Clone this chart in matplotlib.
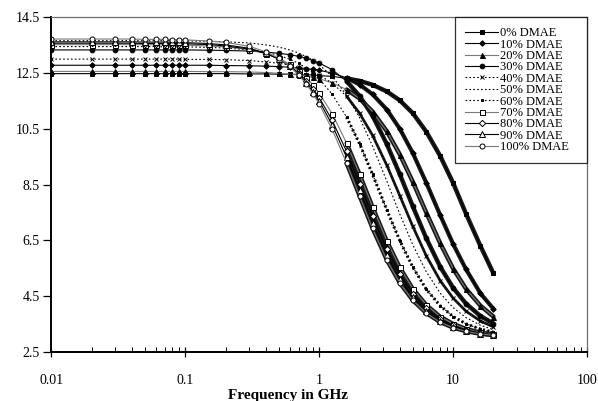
import matplotlib
matplotlib.use("Agg")
import matplotlib.pyplot as plt
from matplotlib.ticker import FixedLocator, LogLocator, NullFormatter, FixedFormatter

plt.rcParams['font.family'] = ['Liberation Serif', 'DejaVu Serif']

freq = [0.01, 0.02, 0.03, 0.04, 0.05, 0.06, 0.07, 0.08, 0.09, 0.1, 0.15, 0.2,
        0.3, 0.4, 0.5, 0.6, 0.7, 0.8, 0.9, 1.0, 1.25, 1.6, 2.0, 2.5, 3.2, 4.0,
        5.0, 6.3, 8.0, 10, 12.5, 16, 20]

labels = ["0% DMAE", "10% DMAE", "20% DMAE", "30% DMAE", "40% DMAE", "50% DMAE",
          "60% DMAE", "70% DMAE", "80% DMAE", "90% DMAE", "100% DMAE"]

d0 = [12.48]*12 + [12.47, 12.47, 12.46, 12.46, 12.45, 12.44, 12.43, 12.41,
                   12.38, 12.31, 12.22, 12.08, 11.84, 11.52, 11.06, 10.40, 9.53,
                   8.56, 7.45, 6.30, 5.32]
d10 = [12.78]*11 + [12.77, 12.76, 12.75, 12.73, 12.71, 12.69, 12.66, 12.63, 12.60,
                    12.50, 12.33, 12.09, 11.74, 11.19, 10.50, 9.63, 8.57, 7.41,
                    6.37, 5.46, 4.60, 4.05]
d20 = [12.56]*10 + [12.55, 12.55, 12.54, 12.52, 12.49, 12.46, 12.43, 12.39, 12.35,
                    12.30, 12.15, 11.91, 11.59, 11.12, 10.41, 9.58, 8.60, 7.50,
                    6.40, 5.49, 4.76, 4.16, 3.77]
d30 = [13.33]*10 + [13.32, 13.31, 13.29, 13.25, 13.21, 13.16, 13.10, 13.03, 12.95,
                    12.86, 12.62, 12.21, 11.68, 10.97, 9.95, 8.87, 7.72, 6.58,
                    5.56, 4.80, 4.23, 3.79, 3.52]
d40 = [13.00]*9 + [12.99, 12.99, 12.98, 12.95, 12.90, 12.85, 12.79, 12.71, 12.63,
                   12.54, 12.43, 12.14, 11.67, 11.06, 10.27, 9.19, 8.10, 7.00,
                   5.95, 5.06, 4.43, 3.96, 3.61, 3.40]
d50 = [13.66]*8 + [13.65, 13.65, 13.64, 13.62, 13.58, 13.51, 13.43, 13.33, 13.22,
                   13.09, 12.95, 12.80, 12.38, 11.71, 10.90, 9.89, 8.62, 7.44,
                   6.34, 5.38, 4.61, 4.09, 3.73, 3.46, 3.30]
d60 = [13.45]*6 + [13.44, 13.44, 13.44, 13.44, 13.42, 13.40, 13.33, 13.25, 13.13,
                   13.00, 12.85, 12.68, 12.49, 12.29, 11.74, 10.92, 9.97, 8.87,
                   7.59, 6.49, 5.54, 4.75, 4.16, 3.77, 3.51, 3.32, 3.21]
d70 = [13.52]*5 + [13.51, 13.51, 13.51, 13.50, 13.50, 13.47, 13.44, 13.34, 13.20,
                   13.03, 12.82, 12.59, 12.34, 12.07, 11.78, 11.04, 9.99, 8.88,
                   7.71, 6.48, 5.53, 4.77, 4.19, 3.77, 3.51, 3.33, 3.20, 3.13]
d80 = [13.57]*4 + [13.56, 13.56, 13.56, 13.55, 13.55, 13.55, 13.52, 13.47, 13.36,
                   13.20, 13.00, 12.77, 12.51, 12.23, 11.93, 11.62, 10.80, 9.69,
                   8.54, 7.37, 6.18, 5.28, 4.58, 4.06, 3.68, 3.45, 3.29, 3.18, 3.12]
d90 = [13.62]*4 + [13.61, 13.61, 13.61, 13.60, 13.60, 13.59, 13.56, 13.51, 13.39,
                   13.21, 13.00, 12.74, 12.46, 12.16, 11.83, 11.50, 10.64, 9.48,
                   8.31, 7.14, 5.98, 5.12, 4.46, 3.97, 3.62, 3.41, 3.27, 3.16, 3.11]
d100 = [13.72]*4 + [13.71, 13.71, 13.71, 13.70, 13.70, 13.69, 13.65, 13.60, 13.46,
                    13.26, 13.03, 12.75, 12.44, 12.11, 11.76, 11.39, 10.48, 9.27,
                    8.09, 6.93, 5.79, 4.97, 4.35, 3.89, 3.57, 3.37, 3.24, 3.15, 3.10]

series = [d0, d10, d20, d30, d40, d50, d60, d70, d80, d90, d100]

# style: (line color, linestyle, marker, marker face, marker size, dense-band width)
styles = [
    ('black', '-', 's', 'black', 3.5, 3.2),
    ('black', '-', 'D', 'black', 2.8, 3.0),
    ('#7a7a7a', '-', '^', 'black', 3.6, 3.2),
    ('black', '-', 'o', 'black', 3.4, 3.2),
    ('black', (0, (1.5, 2)), 'x', 'black', 3.2, 2.0),
    ('black', (0, (1.5, 2)), None, 'black', 0, 0),
    ('black', (0, (1.5, 2)), 's', 'black', 2.0, 0),
    ('#7a7a7a', '-', 's', 'white', 3.6, 3.0),
    ('black', '-', 'D', 'white', 3.2, 3.0),
    ('black', '-', '^', 'white', 3.8, 3.0),
    ('#7a7a7a', '-', 'o', 'white', 3.6, 3.0),
]

fig = plt.figure(figsize=(5.98, 4.01), dpi=100)
ax = fig.add_axes([0.0861, 0.1222, 0.8955, 0.8347])

dense_start = freq.index(1.6)
for vals, lab, (lc, ls, mk, mf, ms, bw) in zip(series, labels, styles):
    ax.plot(freq, vals, color=lc, linestyle=ls, linewidth=0.8,
            marker=mk if mk else 'None', markersize=ms, markerfacecolor=mf,
            markeredgecolor='black', markeredgewidth=0.7, label=lab)
    if bw > 0:
        ax.plot(freq[dense_start:], vals[dense_start:], color='#1a1a1a',
                linewidth=bw, solid_capstyle='round', zorder=1.5)
    elif mk == 's':
        ax.plot(freq[dense_start:], vals[dense_start:], color='black',
                linewidth=2.2, linestyle=(0, (0.6, 0.9)), zorder=1.5)

ax.set_xscale('log')
ax.set_xlim(0.01, 100)
ax.set_ylim(2.5, 14.5)

yt = [2.5, 4.5, 6.5, 8.5, 10.5, 12.5, 14.5]
ax.yaxis.set_major_locator(FixedLocator(yt))
ax.yaxis.set_major_formatter(FixedFormatter([str(v) for v in yt]))
xt = [0.01, 0.1, 1, 10, 100]
ax.xaxis.set_major_locator(FixedLocator(xt))
ax.xaxis.set_major_formatter(FixedFormatter(['0.01', '0.1', '1', '10', '100']))
ax.xaxis.set_minor_locator(LogLocator(base=10, subs=range(2, 10)))
ax.xaxis.set_minor_formatter(NullFormatter())

ax.tick_params(axis='y', which='major', direction='out', length=5.5, width=0.9,
               labelsize=10, pad=3)
ax.tick_params(axis='x', which='major', direction='inout', length=7, width=0.9,
               labelsize=10, pad=12)
ax.tick_params(axis='x', which='minor', direction='in', length=3.5, width=0.7)

for s in ['left', 'bottom']:
    ax.spines[s].set_color('black')
    ax.spines[s].set_linewidth(1.4)
for s in ['top', 'right']:
    ax.spines[s].set_color('#6e6e6e')
    ax.spines[s].set_linewidth(0.9)

leg = ax.legend(loc='upper left', bbox_to_anchor=(0.7535, 0.0, 0.2465, 1.0),
                mode='expand', borderaxespad=0,
                fontsize=9, frameon=True, fancybox=False, edgecolor='black',
                labelspacing=-0.05, handlelength=2.65, handletextpad=0.16,
                borderpad=0.8)
leg.get_frame().set_linewidth(0.9)

fig.text(0.482, 0.014, 'Frequency in GHz', ha='center', va='center',
         fontsize=11, fontweight='bold')

fig.savefig('out.png', dpi=100)
